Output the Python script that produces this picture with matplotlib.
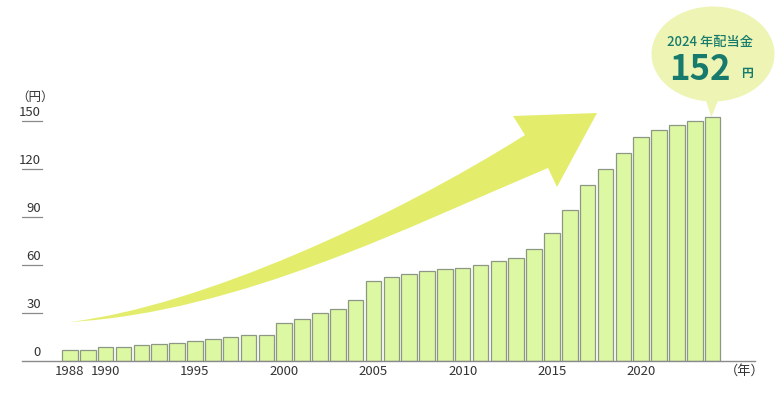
import matplotlib.pyplot as plt
from matplotlib.path import Path
from matplotlib.patches import PathPatch, Ellipse, Polygon

plt.rcParams['font.family'] = ['Noto Sans CJK JP', 'DejaVu Sans']

# dividend per share (yen)
years = list(range(1988, 2025))
dividend = [6.7, 6.7, 8.5, 8.75, 9.8, 10.6, 11.25, 12.3, 13.5, 14.8,
            15.8, 15.8, 23.75, 26, 30, 32, 38, 50, 52, 54,
            56, 57, 58, 60, 62, 64, 70, 80, 94, 110,
            120, 130, 140, 144, 147, 150, 152]
year_ticks = [1988, 1990, 1995, 2000, 2005, 2010, 2015, 2020]
yen_ticks = [0, 30, 60, 90, 120, 150]
highlight_label = '2024 年配当金'
highlight_value = '152'

W, H = 781, 395
fig = plt.figure(figsize=(W / 100, H / 100), dpi=100)

# overlay in pixel coords for the decoration (arrow, bubble)
deco = fig.add_axes([0, 0, 1, 1], zorder=0)
deco.set_xlim(0, W)
deco.set_ylim(H, 0)
deco.axis('off')

arrow_col = '#e3ed6b'
verts = [(70, 322), (200, 306), (390, 220), (525, 135),   # upper edge of shaft
         (513, 116), (597, 113), (557, 187),              # arrow head
         (548, 168), (410, 226), (240, 312), (70, 322),   # lower edge
         (70, 322)]
codes = [Path.MOVETO, Path.CURVE4, Path.CURVE4, Path.CURVE4,
         Path.LINETO, Path.LINETO, Path.LINETO,
         Path.LINETO, Path.CURVE4, Path.CURVE4, Path.CURVE4,
         Path.CLOSEPOLY]
deco.add_patch(PathPatch(Path(verts, codes), facecolor=arrow_col, edgecolor='none'))

bubble_col = '#eef5b4'
deco.add_patch(Ellipse((713, 54), 123, 95, facecolor=bubble_col, edgecolor='none'))
deco.add_patch(Polygon([(705, 98), (719, 98), (711.5, 117)], closed=True,
                       facecolor=bubble_col, edgecolor='none'))
teal = '#167a6c'
deco.text(710, 42, highlight_label, color=teal, fontsize=9.5, fontweight='medium',
          ha='center', va='center')
deco.text(700, 70, highlight_value, color=teal, fontsize=25, fontweight='bold',
          ha='center', va='center')
deco.text(747, 73, '円', color=teal, fontsize=8.5, fontweight='bold',
          ha='center', va='center')

# main bar chart
x0, x1 = 22, 755
ybase, ytop = 360.5, 104.5
ax = fig.add_axes([x0 / W, (H - ybase) / H, (x1 - x0) / W, (ybase - ytop) / H], zorder=1)
ax.patch.set_alpha(0)
px_per_year = 17.85
ax.set_xlim(1988 - (70 - x0) / px_per_year, 1988 + (x1 - 70) / px_per_year)
ax.set_ylim(0, (ybase - ytop) / 1.6)

ax.bar(years, dividend, width=0.87, color='#dcf8a2', edgecolor='#8d9884', linewidth=0.9)

for s in ['top', 'right', 'left']:
    ax.spines[s].set_visible(False)
ax.spines['bottom'].set_color('#8a8a8a')
ax.spines['bottom'].set_linewidth(1.0)

ax.set_yticks([])
ax.set_xticks(year_ticks)
ax.set_xticklabels([str(y) for y in year_ticks], fontsize=9.5, color='#333333')
ax.tick_params(axis='x', length=0, pad=3)

tick_w = 20 / (x1 - x0)
for v in yen_ticks:
    if v > 0:
        ax.axhline(v, xmin=0, xmax=tick_w, color='#8a8a8a', lw=0.9)
    ax.text(19 / (x1 - x0), v + 1.2, str(v), transform=ax.get_yaxis_transform(),
            ha='right', va='bottom', fontsize=9.5, color='#333333')
ax.text(-6 / (x1 - x0), 160.5, '（円）', transform=ax.get_yaxis_transform(),
        ha='left', va='bottom', fontsize=9, color='#333333')
ax.text((745 - x0) / (x1 - x0), -7, '（年）', transform=ax.get_yaxis_transform(),
        ha='center', va='center', fontsize=9.5, color='#333333')

fig.savefig('out.png', dpi=100)
